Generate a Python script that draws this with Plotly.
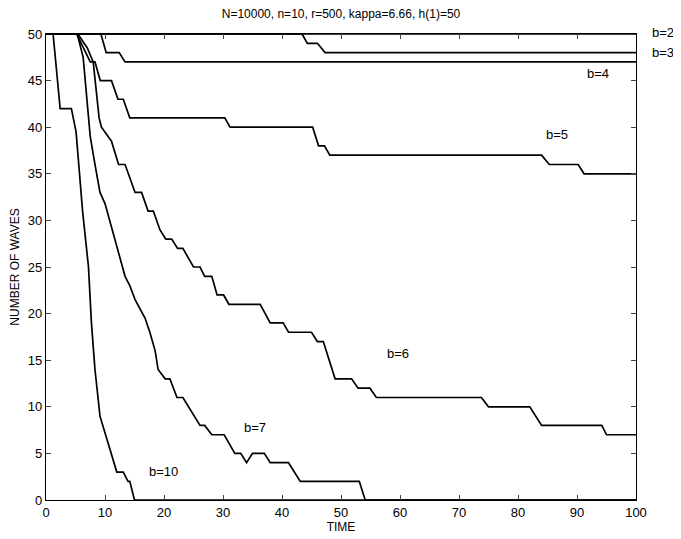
import plotly.graph_objects as go

# ---- data ----
b2_x = [0, 100]
b2_y = [50, 50]

b3_x = [0, 43.4, 44.3, 46.0, 47.3, 100]
b3_y = [50, 50, 49, 49, 48, 48]

b4_x = [0, 9.3, 10.2, 12.4, 13.4, 100]
b4_y = [50, 50, 48, 48, 47, 47]

b5_x = [0, 5.2, 7.5, 8.3, 9.2, 11.1, 12.2, 13.1, 14.2, 30.3, 31.2, 45.2, 46.2, 47.2, 48.1, 84.0, 85.3, 90.2, 91.2, 100]
b5_y = [50, 50, 47, 47, 45, 45, 43, 43, 41, 41, 40, 40, 38, 38, 37, 37, 36, 36, 35, 35]

b6_x = [0, 5.4, 7.0, 8.0, 9.0, 9.4, 11.1, 12.3, 13.4, 15.1, 16.2, 17.3, 18.2, 19.3, 20.3, 21.3, 22.3, 23.2,
        25.0, 26.1, 26.9, 28.1, 29.0, 30.1, 31.0, 36.3, 38.0, 40.2, 41.1, 45.0, 46.0, 47.0, 49.0, 51.8,
        52.9, 54.9, 56.0, 73.8, 75.0, 82.0, 84.0, 94.2, 95.0, 100]
b6_y = [50, 50, 48.5, 47, 41, 40, 38.5, 36, 36, 33, 33, 31, 31, 29, 28, 28, 27, 27,
        25, 25, 24, 24, 22, 22, 21, 21, 19, 19, 18, 18, 17, 17, 13, 13,
        12, 12, 11, 11, 10, 10, 8, 8, 7, 7]

b7_x = [0, 5.3, 6.3, 7.5, 8.3, 9.15, 10.0, 11.1, 12.0, 12.3, 13.4, 14.2, 15.1, 16.8, 17.6, 18.5, 19.0,
        20.2, 21.0, 22.2, 23.2, 26.1, 26.9, 28.1, 30.2, 32.0, 33.0, 34.0, 35.0, 37.0, 38.0, 41.1, 43.1,
        53.1, 54.1, 100]
b7_y = [50, 50, 47.5, 39, 36, 33, 31.8, 29.2, 27, 26.5, 24, 23, 21.5, 19.5, 18, 16, 14,
        13, 13, 11, 11, 8, 8, 7, 7, 5, 5, 4, 5, 5, 4, 4, 2,
        2, 0, 0]

b10_x = [0, 1.2, 2.4, 4.3, 5.1, 6.2, 7.2, 7.7, 8.3, 9.15, 12.0, 13.1, 13.9, 14.2, 15.0, 100]
b10_y = [50, 50, 42, 42, 39.5, 31, 25, 19, 14, 9, 3, 3, 2, 2, 0, 0]

# in-plot labels (data coords)
labels = ["b=4", "b=5", "b=6", "b=7", "b=10"]
label_x = [93.5, 86.6, 59.7, 35.4, 19.9]
label_y = [45.8, 39.2, 15.7, 7.8, 3.1]

# labels right of the plot (b=2, b=3), paper coords
side_labels = ["b=2", "b=3"]
side_label_x = [1.046, 1.046]
side_label_y = [1.004, 0.961]

x_ticks = [0, 10, 20, 30, 40, 50, 60, 70, 80, 90, 100]
y_ticks = [0, 5, 10, 15, 20, 25, 30, 35, 40, 45, 50]

title_text = "N=10000, n=10, r=500, kappa=6.66, h(1)=50"

FONT = "Liberation Sans, Arial, sans-serif"

fig = go.Figure()
for xs, ys in [(b2_x, b2_y), (b3_x, b3_y), (b4_x, b4_y), (b5_x, b5_y),
               (b6_x, b6_y), (b7_x, b7_y), (b10_x, b10_y)]:
    fig.add_trace(go.Scatter(x=xs, y=ys, mode="lines",
                             line=dict(color="black", width=1.7),
                             showlegend=False))

for t, lx, ly in zip(labels, label_x, label_y):
    fig.add_annotation(x=lx, y=ly, text=t, showarrow=False,
                       xanchor="center", yanchor="middle",
                       font=dict(family=FONT, size=13, color="black"))

for t, lx, ly in zip(side_labels, side_label_x, side_label_y):
    fig.add_annotation(xref="paper", yref="paper", x=lx, y=ly, text=t, showarrow=False,
                       xanchor="center", yanchor="middle",
                       font=dict(family=FONT, size=13, color="black"))

fig.update_layout(
    width=673, height=531,
    margin=dict(l=38, r=45, t=26, b=39),
    paper_bgcolor="white", plot_bgcolor="white",
    font=dict(family=FONT, size=13, color="black"),
    title=dict(text=title_text, x=0.5, xanchor="center", xref="paper",
               y=0.99, yref="container", yanchor="middle",
               font=dict(size=12)),
    showlegend=False,
)
fig.update_xaxes(range=[0, 100], tickvals=x_ticks, ticks="inside", ticklen=5,
                 showline=True, linecolor="black", linewidth=1.2, mirror="ticks",
                 showgrid=False, zeroline=False, automargin=False,
                 title=dict(text="TIME", standoff=1, font=dict(size=12)))
fig.update_yaxes(range=[0, 50], tickvals=y_ticks, ticks="inside", ticklen=5,
                 showline=True, linecolor="black", linewidth=1.2, mirror="ticks",
                 showgrid=False, zeroline=False, automargin=False,
                 title=dict(text="NUMBER OF WAVES", standoff=6, font=dict(size=12)))

fig.write_html("out.html")
